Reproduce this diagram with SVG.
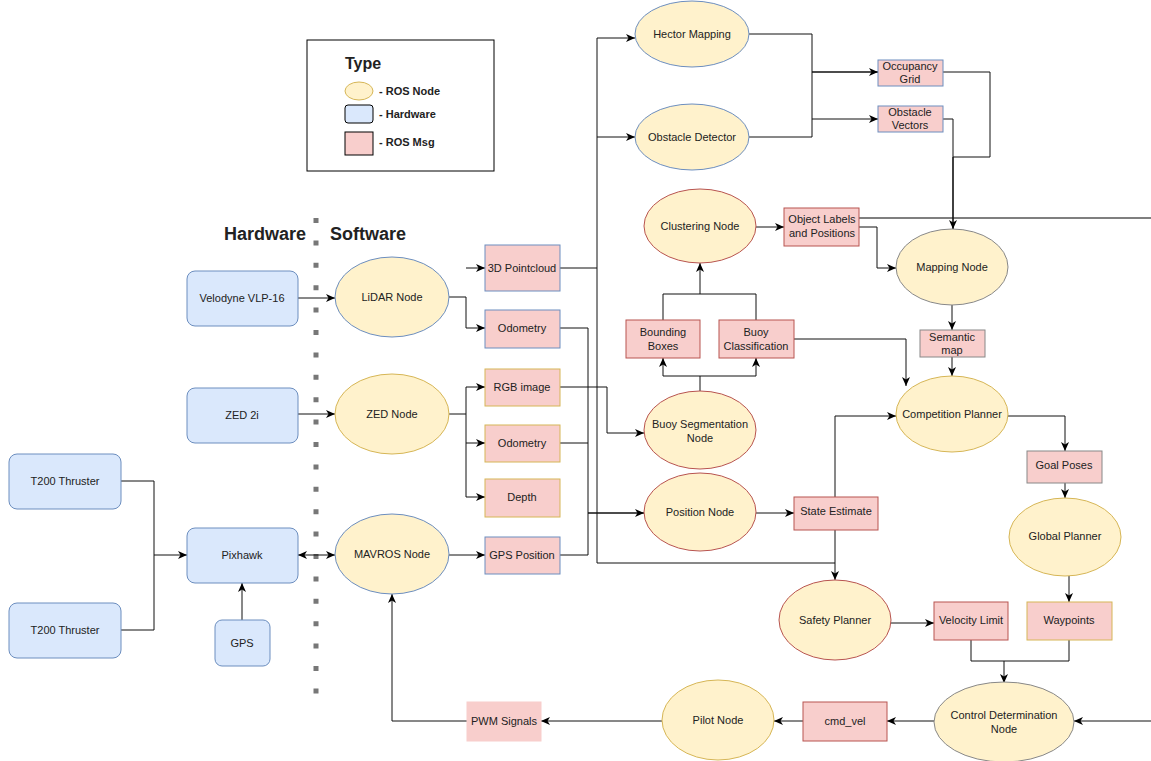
<svg xmlns="http://www.w3.org/2000/svg" width="1151" height="761" viewBox="0 0 1151 761">
<defs>
<marker id="arr" markerWidth="10" markerHeight="8" refX="9" refY="4" orient="auto-start-reverse" markerUnits="userSpaceOnUse">
<path d="M0,0 L9,4 L0,8 L2.5,4 z" fill="#000"/>
</marker>
<style>
text{font-family:"Liberation Sans",Arial,sans-serif;font-size:11px;fill:#222;text-anchor:middle;dominant-baseline:central}
.hw{fill:#dae8fc;stroke:#6c8ebf;stroke-width:1}
.nd{fill:#fff2cc;stroke-width:1}
.msg{fill:#f8cecc;stroke-width:1}
.sb{stroke:#6c8ebf}.sy{stroke:#d6b656}.sr{stroke:#b85450}.sg{stroke:#888}
.c{fill:none;stroke:#111;stroke-width:1}
.ca{fill:none;stroke:#111;stroke-width:1;marker-end:url(#arr)}
.b{font-weight:bold}
</style>
</defs>
<rect width="1151" height="761" fill="#fff"/>

<g id="legend">
<rect x="307" y="40" width="187" height="131" fill="#fff" stroke="#000"/>
<text x="345" y="63" class="b" style="font-size:16px;text-anchor:start">Type</text>
<ellipse cx="359" cy="91" rx="14" ry="9" class="nd sy" stroke="#000"/>
<rect x="345" y="105" width="28" height="18" rx="3" class="hw" style="stroke:#000"/>
<rect x="345" y="132" width="28" height="23" class="msg" style="stroke:#000"/>
<text x="379" y="91" class="b" style="text-anchor:start">- ROS Node</text>
<text x="379" y="114" class="b" style="text-anchor:start">- Hardware</text>
<text x="379" y="142" class="b" style="text-anchor:start">- ROS Msg</text>
</g>

<g id="divider">
<text x="265" y="234" class="b" style="font-size:18px">Hardware</text>
<text x="368" y="234" class="b" style="font-size:18px">Software</text>
<line x1="316" y1="218" x2="316" y2="696" stroke="#777" stroke-width="5" stroke-dasharray="5 17.4"/>
</g>

<g id="connectors">
<path class="ca" d="M298,298 H335"/>
<path class="ca" d="M298,414 H335"/>
<path class="ca" d="M298,555 H335" style="marker-start:url(#arr)"/>
<path class="c" d="M121,481 H154 V630 H121"/>
<path class="ca" d="M154,555 H187"/>
<path class="ca" d="M242,620 V583"/>
<path class="c" d="M449,297 H466 V328"/>
<path class="ca" d="M466,268 H485"/>
<path class="ca" d="M466,328 H485"/>
<path class="c" d="M449,414 H466 V387"/>
<path class="c" d="M466,414 V497"/>
<path class="ca" d="M466,387 H485"/>
<path class="ca" d="M466,443 H485"/>
<path class="ca" d="M466,497 H485"/>
<path class="ca" d="M449,555 H485"/>
<path class="c" d="M560,268 H597"/>
<path class="c" d="M597,38 V563 H835"/>
<path class="ca" d="M597,38 H635"/>
<path class="ca" d="M597,137 H635"/>
<path class="c" d="M560,328 H588 V555 H560"/>
<path class="c" d="M560,443 H588"/>
<path class="ca" d="M588,513 H644" style="stroke-width:1.6"/>
<path class="ca" d="M560,387 H607 V433 H644"/>
<path class="c" d="M700,391 V376"/>
<path class="ca" d="M663,376 V358"/>
<path class="ca" d="M756,376 V358"/>
<path class="c" d="M663,376 H756"/>
<path class="c" d="M663,320 V294 H756 V320"/>
<path class="ca" d="M700,294 V263"/>
<path class="ca" d="M756,227 H784"/>
<path class="c" d="M859,218 H1151" style="stroke:#555;stroke-width:1.4"/>
<path class="ca" d="M859,227 H877 V268 H896"/>
<path class="c" d="M749,34 H812 V137 H749"/>
<path class="ca" d="M812,72 H878" style="stroke-width:1.5"/>
<path class="ca" d="M812,119 H878"/>
<path class="c" d="M943,72 H990 V157 H953"/>
<path class="c" d="M943,119 H953 V157"/>
<path class="ca" d="M953,157 V229" style="stroke-width:1.6"/>
<path class="ca" d="M952,305 V330"/>
<path class="ca" d="M952,357 V376"/>
<path class="ca" d="M794,339 H906 V386"/>
<path class="ca" d="M835,497 V416 H896"/>
<path class="ca" d="M1008,416 H1065 V451"/>
<path class="ca" d="M1065,483 V498"/>
<path class="ca" d="M1069,576 V602"/>
<path class="ca" d="M756,513 H794"/>
<path class="ca" d="M835,530 V580"/>
<path class="ca" d="M891,623 H934"/>
<path class="c" d="M971,640 V661 H1069 V640"/>
<path class="ca" d="M1004,661 V683"/>
<path class="ca" d="M1151,721 H1074"/>
<path class="ca" d="M934,721 H887"/>
<path class="ca" d="M803,721 H774"/>
<path class="ca" d="M662,721 H541"/>
<path class="ca" d="M467,721 H392 V594"/>
</g>

<g id="velodyne"><rect x="187" y="271" width="111" height="55" rx="8" class="hw"/><text x="242" y="298">Velodyne VLP-16</text></g>
<g id="zed2i"><rect x="187" y="388" width="111" height="55" rx="8" class="hw"/><text x="242" y="415">ZED 2i</text></g>
<g id="t200a"><rect x="9" y="454" width="112" height="55" rx="8" class="hw"/><text x="65" y="481">T200 Thruster</text></g>
<g id="t200b"><rect x="9" y="603" width="112" height="55" rx="8" class="hw"/><text x="65" y="630">T200 Thruster</text></g>
<g id="pixhawk"><rect x="187" y="528" width="111" height="55" rx="8" class="hw"/><text x="242" y="555">Pixhawk</text></g>
<g id="gps"><rect x="215" y="620" width="55" height="46" rx="7" class="hw"/><text x="242" y="643">GPS</text></g>

<g id="lidar"><ellipse cx="392" cy="297" rx="57" ry="40" class="nd sb"/><text x="392" y="297">LiDAR Node</text></g>
<g id="zednode"><ellipse cx="392" cy="414" rx="57" ry="40" class="nd sy"/><text x="392" y="414">ZED Node</text></g>
<g id="mavros"><ellipse cx="392" cy="554" rx="57" ry="40" class="nd sb"/><text x="392" y="554">MAVROS Node</text></g>

<g id="pointcloud"><rect x="485" y="245" width="75" height="46" class="msg sb"/><text x="522" y="268">3D Pointcloud</text></g>
<g id="odom1"><rect x="485" y="310" width="75" height="38" class="msg sb"/><text x="522" y="328">Odometry</text></g>
<g id="rgb"><rect x="485" y="369" width="75" height="37" class="msg sy"/><text x="522" y="387">RGB image</text></g>
<g id="odom2"><rect x="485" y="425" width="75" height="37" class="msg sy"/><text x="522" y="443">Odometry</text></g>
<g id="depth"><rect x="485" y="479" width="75" height="38" class="msg sy"/><text x="522" y="497">Depth</text></g>
<g id="gpspos"><rect x="485" y="537" width="75" height="37" class="msg sb"/><text x="522" y="555">GPS Position</text></g>

<g id="hector"><ellipse cx="692" cy="34" rx="57" ry="33" class="nd sb"/><text x="692" y="34">Hector Mapping</text></g>
<g id="obstdet"><ellipse cx="692" cy="137" rx="57" ry="33" class="nd sb"/><text x="692" y="137">Obstacle Detector</text></g>
<g id="occgrid"><rect x="878" y="60" width="65" height="26" class="msg sb"/><text x="910" y="66">Occupancy</text><text x="910" y="79">Grid</text></g>
<g id="obstvec"><rect x="878" y="106" width="65" height="26" class="msg sb"/><text x="910" y="112">Obstacle</text><text x="910" y="125">Vectors</text></g>

<g id="clustering"><ellipse cx="700" cy="226" rx="56" ry="37" class="nd sr"/><text x="700" y="226">Clustering Node</text></g>
<g id="objlabels"><rect x="784" y="208" width="75" height="38" class="msg sr"/><text x="822" y="219">Object Labels</text><text x="822" y="233">and Positions</text></g>
<g id="mapping"><ellipse cx="952" cy="267" rx="56" ry="38" class="nd sg"/><text x="952" y="267">Mapping Node</text></g>
<g id="bbox"><rect x="626" y="320" width="74" height="38" class="msg sr"/><text x="663" y="332">Bounding</text><text x="663" y="346">Boxes</text></g>
<g id="buoycls"><rect x="719" y="320" width="75" height="38" class="msg sr"/><text x="756" y="332">Buoy</text><text x="756" y="346">Classification</text></g>
<g id="semmap"><rect x="920" y="330" width="65" height="27" class="msg sg"/><text x="952" y="337">Semantic</text><text x="952" y="350">map</text></g>
<g id="buoyseg"><ellipse cx="700" cy="430" rx="56" ry="39" class="nd sr"/><text x="700" y="424">Buoy Segmentation</text><text x="700" y="438">Node</text></g>
<g id="comp"><ellipse cx="952" cy="414" rx="56" ry="38" class="nd sy"/><text x="952" y="414">Competition Planner</text></g>
<g id="position"><ellipse cx="700" cy="512" rx="56" ry="39" class="nd sr"/><text x="700" y="512">Position Node</text></g>
<g id="state"><rect x="794" y="497" width="84" height="33" class="msg sr"/><text x="836" y="511">State Estimate</text></g>
<g id="goal"><rect x="1027" y="451" width="75" height="32" class="msg sg"/><text x="1064" y="465">Goal Poses</text></g>
<g id="global"><ellipse cx="1065" cy="537" rx="56" ry="39" class="nd sy"/><text x="1065" y="536">Global Planner</text></g>
<g id="safety"><ellipse cx="835" cy="620" rx="56" ry="40" class="nd sr"/><text x="835" y="620">Safety Planner</text></g>
<g id="vellimit"><rect x="934" y="602" width="74" height="38" class="msg sr"/><text x="971" y="620">Velocity Limit</text></g>
<g id="waypoints"><rect x="1027" y="602" width="85" height="38" class="msg sy"/><text x="1069" y="620">Waypoints</text></g>
<g id="control"><ellipse cx="1004" cy="722" rx="70" ry="40" class="nd sg"/><text x="1004" y="715">Control Determination</text><text x="1004" y="729">Node</text></g>
<g id="cmdvel"><rect x="803" y="702" width="84" height="39" class="msg sr"/><text x="845" y="721">cmd_vel</text></g>
<g id="pilot"><ellipse cx="718" cy="720" rx="56" ry="40" class="nd sy"/><text x="718" y="720">Pilot Node</text></g>
<g id="pwm"><rect x="467" y="702" width="74" height="39" class="msg" stroke="#f8cecc"/><text x="504" y="721">PWM Signals</text></g>
</svg>
